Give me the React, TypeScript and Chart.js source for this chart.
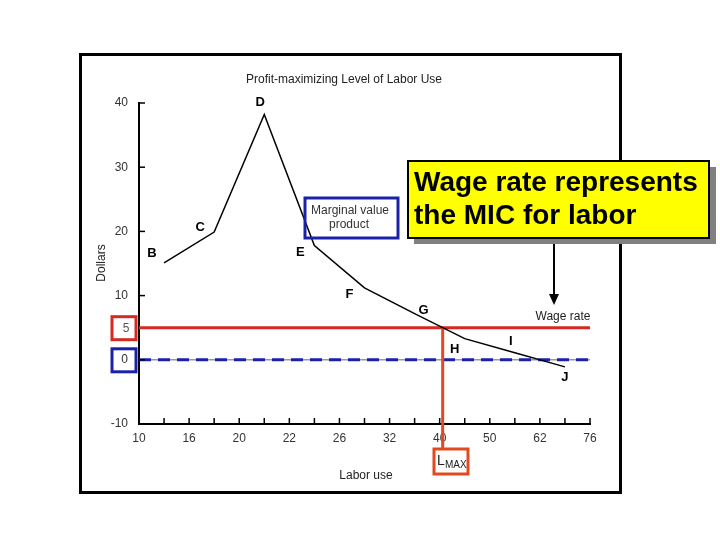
import { Chart, registerables } from 'chart.js';
import React, { useEffect, useRef } from 'react';

Chart.register(...registerables);

// tick labels of the labor-use axis (evenly spaced categories)
const laborLabels = ['10', '16', '20', '22', '26', '32', '40', '50', '62', '76'];
// marginal value product curve, x as position between the labels
const mvpX = [0.5, 1.5, 2.5, 3.5, 4.5, 5.5, 6.5, 7.5, 8.5];
const mvpY = [15.1, 19.9, 38.2, 17.8, 11.2, 7.2, 3.3, 1.1, -1.1];
const pointNames = ['B', 'C', 'D', 'E', 'F', 'G', 'H', 'I', 'J'];
const wageRate = 5;
const lMaxX = 6.06;
const lMaxBottom = -13.9;
const yMin = -10;
const yMax = 40;

const FONT = "'Liberation Sans', Arial, sans-serif";

// label offsets in px from each curve point
const nameOffsets = [
  [-12, -9], [-14, -5], [-4, -12], [-14, 7], [-15, 7], [9, -3], [-10, 11], [-4, -11], [0, 11],
];

const extras = {
  id: 'extras',
  afterDraw(chart: any) {
    const ctx = chart.ctx;
    const xs = chart.scales.x;
    const ys = chart.scales.y;
    ctx.save();

    // inward tick marks
    ctx.strokeStyle = '#000';
    ctx.lineWidth = 1.5;
    xs.ticks.forEach((t: any) => {
      const px = xs.getPixelForValue(t.value);
      ctx.beginPath();
      ctx.moveTo(px, ys.bottom);
      ctx.lineTo(px, ys.bottom - 6);
      ctx.stroke();
    });
    ys.ticks.forEach((t: any) => {
      const py = ys.getPixelForValue(t.value);
      ctx.beginPath();
      ctx.moveTo(xs.left, py);
      ctx.lineTo(xs.left + 6, py);
      ctx.stroke();
    });

    // outer frame
    ctx.strokeStyle = '#000';
    ctx.lineWidth = 3;
    ctx.strokeRect(80.5, 54.5, 540, 438);

    // title and axis titles
    ctx.fillStyle = '#222';
    ctx.font = `12px ${FONT}`;
    ctx.textAlign = 'center';
    ctx.textBaseline = 'middle';
    ctx.fillText('Profit-maximizing Level of Labor Use', 344, 80);
    ctx.fillText('Labor use', 366, 476);
    ctx.save();
    ctx.translate(102, 263);
    ctx.rotate(-Math.PI / 2);
    ctx.fillText('Dollars', 0, 0);
    ctx.restore();

    // point names
    ctx.fillStyle = '#000';
    ctx.font = `bold 13px ${FONT}`;
    pointNames.forEach((n, i) => {
      const px = xs.getPixelForValue(mvpX[i]) + nameOffsets[i][0];
      const py = ys.getPixelForValue(mvpY[i]) + nameOffsets[i][1];
      ctx.fillText(n, px, py);
    });

    // marginal value product box
    ctx.strokeStyle = '#1c22a8';
    ctx.lineWidth = 3;
    ctx.strokeRect(305, 198, 93, 40);
    ctx.fillStyle = '#333';
    ctx.font = `12px ${FONT}`;
    ctx.fillText('Marginal value', 350, 211);
    ctx.fillText('product', 349, 225);

    // arrow from callout to wage line
    ctx.strokeStyle = '#000';
    ctx.lineWidth = 2;
    ctx.beginPath();
    ctx.moveTo(554, 238);
    ctx.lineTo(554, 298);
    ctx.stroke();
    ctx.fillStyle = '#000';
    ctx.beginPath();
    ctx.moveTo(549, 294);
    ctx.lineTo(559, 294);
    ctx.lineTo(554, 305);
    ctx.closePath();
    ctx.fill();

    ctx.fillStyle = '#222';
    ctx.font = `12px ${FONT}`;
    ctx.fillText('Wage rate', 563, 317);

    // yellow callout with shadow
    ctx.fillStyle = '#808080';
    ctx.fillRect(414, 167, 302, 77);
    ctx.fillStyle = '#ffff00';
    ctx.fillRect(408, 161, 301, 77);
    ctx.strokeStyle = '#000';
    ctx.lineWidth = 2;
    ctx.strokeRect(408, 161, 301, 77);
    ctx.fillStyle = '#000';
    ctx.font = `bold 28px ${FONT}`;
    ctx.textAlign = 'left';
    ctx.fillText('Wage rate represents', 414, 183);
    ctx.fillText('the MIC for labor', 414, 216);

    // boxes round 5 and 0 on the y axis
    const y5 = ys.getPixelForValue(wageRate);
    const y0 = ys.getPixelForValue(0);
    ctx.lineWidth = 3;
    ctx.strokeStyle = '#d42a20';
    ctx.strokeRect(112, y5 - 11, 24, 23);
    ctx.strokeStyle = '#1c22a8';
    ctx.strokeRect(112, y0 - 11, 24, 23);
    ctx.fillStyle = '#555';
    ctx.font = `12px ${FONT}`;
    ctx.textAlign = 'center';
    ctx.fillText('5', 126, y5 + 1);

    // L max box
    ctx.strokeStyle = '#e04a1e';
    ctx.lineWidth = 3;
    ctx.strokeRect(434, 449, 34, 25);
    ctx.fillStyle = '#222';
    ctx.font = `14px ${FONT}`;
    ctx.textAlign = 'left';
    ctx.fillText('L', 437, 461);
    ctx.font = `10px ${FONT}`;
    ctx.fillText('MAX', 445, 465);

    ctx.restore();
  },
};

const App = () => {
  const canvasRef = useRef<HTMLCanvasElement>(null);

  useEffect(() => {
    const line = (y: number) => [{ x: 0, y }, { x: laborLabels.length - 1, y }];
    const chart = new Chart(canvasRef.current as HTMLCanvasElement, {
      type: 'scatter',
      data: {
        datasets: [
          {
            data: mvpX.map((x, i) => ({ x, y: mvpY[i] })),
            showLine: true,
            borderColor: '#000',
            borderWidth: 1.5,
            pointRadius: 0,
            order: 1,
          },
          {
            data: [{ x: lMaxX, y: wageRate }, { x: lMaxX, y: lMaxBottom }],
            showLine: true,
            borderColor: '#e04a1e',
            borderWidth: 3,
            pointRadius: 0,
            clip: false,
            order: 2,
          },
          {
            data: line(wageRate),
            showLine: true,
            borderColor: '#d42a20',
            borderWidth: 3,
            pointRadius: 0,
            order: 3,
          },
          {
            data: line(0),
            showLine: true,
            borderColor: '#1c22a8',
            borderWidth: 3,
            borderDash: [12, 7],
            pointRadius: 0,
            order: 4,
          },
          {
            data: line(0),
            showLine: true,
            borderColor: '#999',
            borderWidth: 1.5,
            pointRadius: 0,
            order: 5,
          },
        ],
      },
      options: {
        responsive: false,
        animation: false,
        devicePixelRatio: 1,
        layout: { padding: { left: 90, right: 130, top: 103, bottom: 76 } },
        plugins: { legend: { display: false }, tooltip: { enabled: false } },
        scales: {
          x: {
            type: 'linear',
            min: 0,
            max: laborLabels.length - 1,
            afterFit: (s: any) => { s.height = 40; },
            grid: { display: false, drawTicks: false },
            border: { display: true, color: '#000', width: 2 },
            ticks: {
              stepSize: 0.5,
              autoSkip: false,
              maxRotation: 0,
              padding: 7,
              color: '#333',
              font: { family: FONT, size: 12 },
              callback: (v: any) => (Number.isInteger(v) ? laborLabels[v] : ''),
            },
          },
          y: {
            min: yMin,
            max: yMax,
            afterFit: (s: any) => { s.width = 49; },
            grid: { display: false, drawTicks: false },
            border: { display: true, color: '#000', width: 2 },
            ticks: {
              stepSize: 10,
              padding: 11,
              color: '#333',
              font: { family: FONT, size: 12 },
            },
          },
        },
      },
      plugins: [extras],
    });
    return () => chart.destroy();
  }, []);

  return (
    <div style={{ position: 'fixed', left: 0, top: 0, width: 720, height: 540, background: '#fff' }}>
      <canvas ref={canvasRef} width={720} height={540} />
    </div>
  );
};

export default App;
